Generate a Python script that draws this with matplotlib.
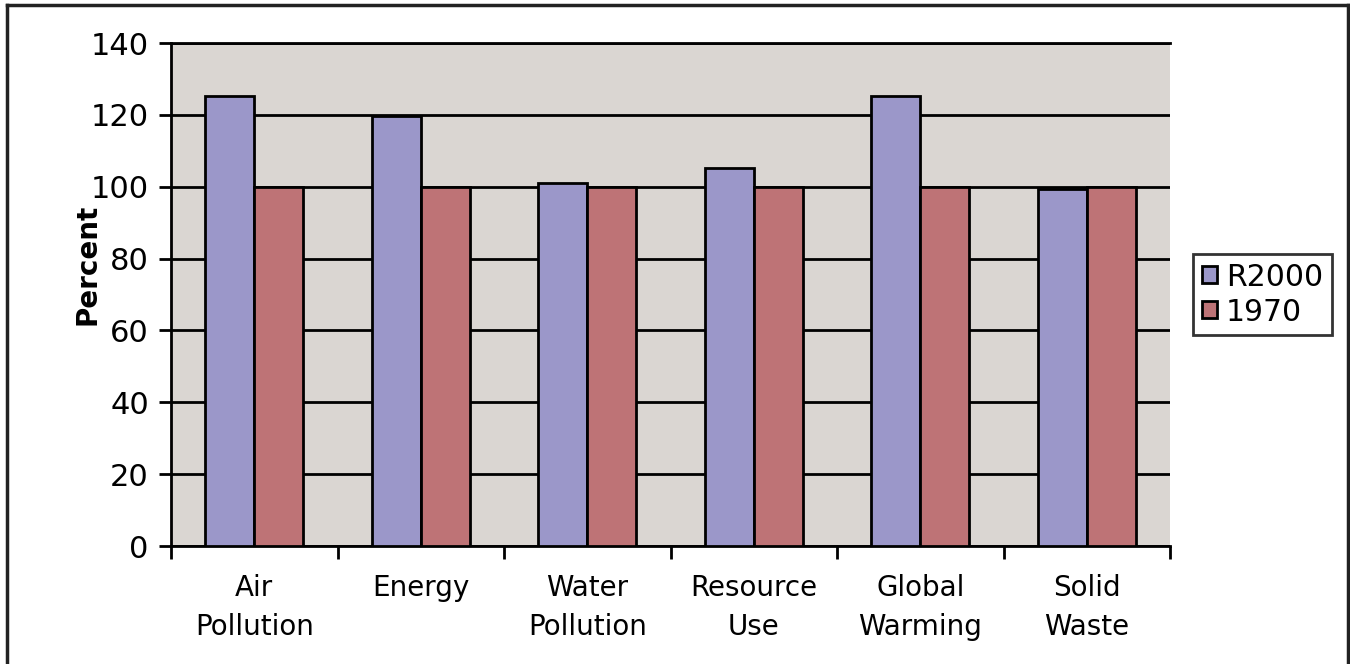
import numpy as np
import matplotlib.pyplot as plt
from matplotlib.lines import Line2D

# data
categories = ["Air\nPollution", "Energy", "Water\nPollution", "Resource\nUse",
              "Global\nWarming", "Solid\nWaste"]
r2000 = [125.3, 119.8, 101.1, 105.1, 125.3, 99.3]
y1970 = [100, 100, 100, 100, 100, 100]

c_r2000 = "#9B97C9"
c_1970 = "#BE7376"
bg = "#DAD6D2"

plt.rcParams["font.family"] = ["DejaVu Sans"]

fig = plt.figure(figsize=(13.5, 6.64), dpi=100)
ax = fig.add_axes([0.1267, 0.1777, 0.74, 0.7575])
ax.set_facecolor(bg)

x = np.arange(len(categories))
w = 0.295
ax.bar(x - w / 2, r2000, w, color=c_r2000, edgecolor="black", linewidth=2,
       label="R2000", zorder=3)
ax.bar(x + w / 2, y1970, w, color=c_1970, edgecolor="black", linewidth=2,
       label="1970", zorder=3)

ax.set_xlim(-0.5, len(categories) - 0.5)
ax.set_ylim(0, 140)
ax.set_yticks(range(0, 141, 20))
ax.yaxis.grid(True, color="black", linewidth=2, zorder=1)
ax.set_axisbelow(True)

# category labels centred, ticks on the boundaries
ax.set_xticks(np.arange(-0.5, len(categories), 1))
ax.set_xticklabels([])
ax.set_xticks(x, minor=True)
ax.set_xticklabels(categories, minor=True, fontsize=20, linespacing=1.5)
ax.tick_params(axis="x", which="minor", length=0, pad=20)
ax.tick_params(axis="x", which="major", length=9, width=2, direction="out")
ax.tick_params(axis="y", length=9, width=2, direction="out", labelsize=22, pad=7)

ax.spines["right"].set_visible(False)
for side in ["left", "bottom", "top"]:
    ax.spines[side].set_linewidth(2)

ax.set_ylabel("Percent", fontsize=20, fontweight="heavy")
ax.yaxis.set_label_coords(-0.07, 0.56)

leg = ax.legend(loc="center left", bbox_to_anchor=(1.023, 0.5), fontsize=21.5,
                frameon=True, fancybox=False, edgecolor="black",
                handlelength=0.5, handleheight=0.5, handletextpad=0.3,
                borderpad=0.3, labelspacing=0.2, borderaxespad=0)
leg.get_frame().set_linewidth(2)

# outer frame
for xs, ys in [([0.0052, 0.0052], [0, 0.9925]), ([0.0052, 0.9985], [0.9925, 0.9925]),
               ([0.9985, 0.9985], [0, 0.9925])]:
    fig.add_artist(Line2D(xs, ys, color="#222222", linewidth=2.5))

fig.savefig("out.png", dpi=100, facecolor="white")
